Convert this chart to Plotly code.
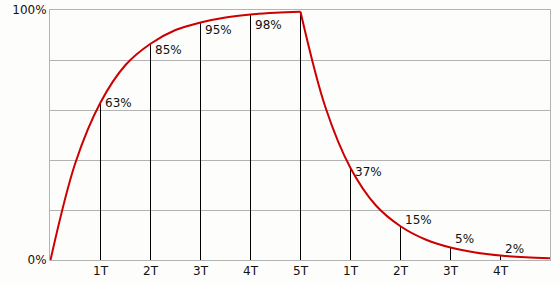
import plotly.graph_objects as go

# Curve samples (in units of T)
charge_t = [0, 0.5, 1, 1.5, 2, 2.5, 3, 3.5, 4, 4.5, 5]
charge_v = [0, 39, 63, 78, 86.5, 92, 95, 97, 98.2, 98.9, 99.3]
discharge_t = [5, 5.5, 6, 6.5, 7, 7.5, 8, 8.5, 9, 9.5, 10]
discharge_v = [99.3, 61, 36.8, 22, 13.5, 8.2, 5, 3, 1.8, 1.1, 0.7]

# Marker lines at each T
mark_t = [1, 2, 3, 4, 5, 6, 7, 8, 9]
mark_v = [63, 86.5, 95, 98.2, 99.3, 36.8, 13.5, 5, 1.8]
mark_labels = ["63%", "85%", "95%", "98%", "", "37%", "15%", "5%", "2%"]
label_shift = [0, -6, -7.5, -10, 0, -3.5, 6, 8.5, 7]

tick_vals = [1, 2, 3, 4, 5, 6, 7, 8, 9]
tick_text = ["1T", "2T", "3T", "4T", "5T", "1T", "2T", "3T", "4T"]

FONT = "DejaVu Sans"
BG = "#fdfdfb"

fig = go.Figure()

vx, vy = [], []
for t, v in zip(mark_t, mark_v):
    vx += [t, t, None]
    vy += [0, v, None]
fig.add_trace(go.Scatter(x=vx, y=vy, mode="lines",
                         line=dict(color="black", width=1),
                         hoverinfo="skip", showlegend=False))

fig.add_trace(go.Scatter(x=charge_t, y=charge_v, mode="lines",
                         line=dict(color="#cc0000", width=2, shape="spline"),
                         showlegend=False))
fig.add_trace(go.Scatter(x=discharge_t, y=discharge_v, mode="lines",
                         line=dict(color="#cc0000", width=2, shape="spline"),
                         showlegend=False))

for t, v, lab, s in zip(mark_t, mark_v, mark_labels, label_shift):
    if not lab:
        continue
    fig.add_annotation(x=t, y=v, text=lab, showarrow=False,
                       xanchor="left", yanchor="middle",
                       xshift=2, yshift=s,
                       font=dict(family=FONT, size=12, color="#111111"))

fig.update_layout(
    width=560, height=283,
    margin=dict(l=50, r=10, t=10, b=23, autoexpand=False),
    paper_bgcolor=BG, plot_bgcolor=BG,
    font=dict(family=FONT, size=12, color="#111111"),
    xaxis=dict(range=[-0.01, 9.99], tickvals=tick_vals, ticktext=tick_text,
               showgrid=False, zeroline=False, showline=True, mirror=True,
               linecolor="#b3b3b3", linewidth=1, ticks="", ticklen=0,
               automargin=False),
    yaxis=dict(range=[0, 100], tickvals=[0, 20, 40, 60, 80, 100],
               ticktext=["0%", "", "", "", "", "100%"],
               showgrid=True, gridcolor="#b3b3b3", gridwidth=1,
               zeroline=False, showline=True, mirror=True,
               linecolor="#b3b3b3", linewidth=1, ticks="", ticklen=0,
               automargin=False),
)

fig.write_html("out.html")
